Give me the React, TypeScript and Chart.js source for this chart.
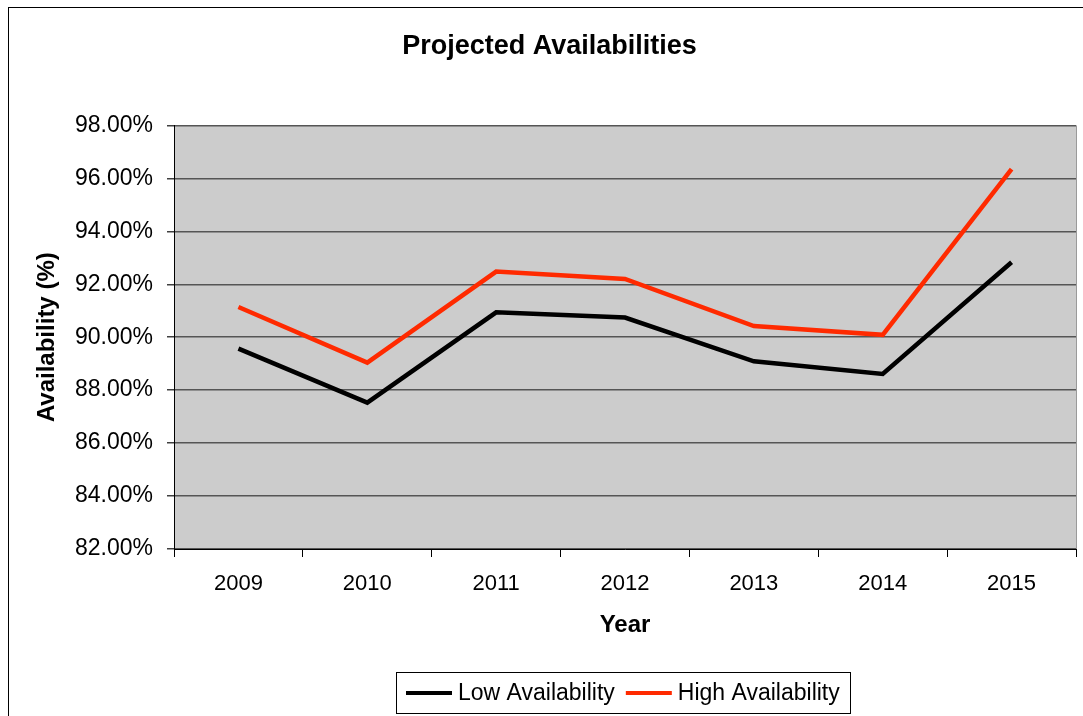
import React, { useEffect, useRef } from "react";
import { Chart, registerables } from "chart.js";

Chart.register(...registerables);

// Projection years and availability percentages
const years: string[] = ["2009", "2010", "2011", "2012", "2013", "2014", "2015"];
const lowAvailability: number[] = [89.57, 87.53, 90.94, 90.74, 89.09, 88.61, 92.83];
const highAvailability: number[] = [91.14, 89.04, 92.48, 92.2, 90.42, 90.09, 96.35];

const Y_MIN = 82;
const Y_MAX = 98;
const Y_STEP = 2;

const FONT = '"Liberation Sans", Arial, Helvetica, sans-serif';
const CANVAS_W = 1083;
const CANVAS_H = 720;

// Grey plot background, outer frame and right edge of the plot
const backdropPlugin = {
  id: "backdrop",
  beforeDraw(chart: any) {
    const { ctx, chartArea, width, height } = chart;
    ctx.save();
    ctx.fillStyle = "#ffffff";
    ctx.fillRect(0, 0, width, height);
    ctx.strokeStyle = "#000000";
    ctx.lineWidth = 1;
    ctx.strokeRect(0.5, 0.5, width - 1, height - 1);
    ctx.fillStyle = "#cccccc";
    ctx.fillRect(chartArea.left, chartArea.top, chartArea.right - chartArea.left, chartArea.bottom - chartArea.top);
    ctx.restore();
  },
  afterDraw(chart: any) {
    const { ctx, chartArea } = chart;
    ctx.save();
    ctx.strokeStyle = "#9a9a9a";
    ctx.lineWidth = 1;
    ctx.beginPath();
    ctx.moveTo(Math.round(chartArea.right) + 0.5, chartArea.top);
    ctx.lineTo(Math.round(chartArea.right) + 0.5, chartArea.bottom);
    ctx.stroke();
    ctx.restore();
  },
};

// Legend drawn inside a bordered box below the axis title
const boxedLegendPlugin = {
  id: "boxedLegend",
  afterDraw(chart: any) {
    const { ctx, chartArea } = chart;
    const sample = 46;
    const gap = 6;
    const itemGap = 11;
    const padX = 10;
    const boxTop = chartArea.bottom + 123;
    const boxH = 41;
    ctx.save();
    ctx.font = `23px ${FONT}`;
    const items = chart.data.datasets.map((ds: any) => ({
      label: ds.label as string,
      color: ds.borderColor as string,
      w: ctx.measureText(ds.label).width,
    }));
    let total = padX * 2 + itemGap * (items.length - 1);
    items.forEach((it: any) => (total += sample + gap + it.w));
    const cx = (chartArea.left + chartArea.right) / 2 - 2;
    const left = Math.round(cx - total / 2);
    ctx.strokeStyle = "#000000";
    ctx.lineWidth = 1;
    ctx.strokeRect(left + 0.5, boxTop + 0.5, Math.round(total), boxH);
    const midY = boxTop + boxH / 2 + 0.5;
    let x = left + padX;
    items.forEach((it: any) => {
      ctx.strokeStyle = it.color;
      ctx.lineWidth = 4;
      ctx.beginPath();
      ctx.moveTo(x, midY);
      ctx.lineTo(x + sample, midY);
      ctx.stroke();
      x += sample + gap;
      ctx.fillStyle = "#000000";
      ctx.textBaseline = "middle";
      ctx.textAlign = "left";
      ctx.fillText(it.label, x, midY + 1);
      x += it.w + itemGap;
    });
    ctx.restore();
  },
};

export default function App() {
  const canvasRef = useRef<HTMLCanvasElement | null>(null);

  useEffect(() => {
    if (!canvasRef.current) return;
    const chart = new Chart(canvasRef.current, {
      type: "line",
      data: {
        labels: years,
        datasets: [
          {
            label: "Low Availability",
            data: lowAvailability,
            borderColor: "#000000",
            backgroundColor: "#000000",
            borderWidth: 4.5,
            pointRadius: 0,
            tension: 0,
            fill: false,
          },
          {
            label: "High Availability",
            data: highAvailability,
            borderColor: "#ff2a00",
            backgroundColor: "#ff2a00",
            borderWidth: 4.5,
            pointRadius: 0,
            tension: 0,
            fill: false,
          },
        ],
      },
      options: {
        responsive: false,
        animation: false,
        devicePixelRatio: 1,
        layout: { padding: { left: 15, right: 15, top: 0, bottom: 53 } },
        plugins: {
          legend: { display: false },
          tooltip: { enabled: false },
          title: {
            display: true,
            text: "Projected Availabilities",
            color: "#000000",
            font: { family: FONT, size: 27, weight: "bold" },
            padding: { top: 23, bottom: 63 },
          },
        },
        scales: {
          x: {
            offset: true,
            afterFit: (scale: any) => {
              scale.height = 125;
            },
            grid: {
              display: true,
              offset: true,
              drawOnChartArea: false,
              drawTicks: true,
              tickLength: 8,
              color: "#000000",
            },
            border: { display: true, color: "#000000", width: 1 },
            ticks: {
              color: "#000000",
              font: { family: FONT, size: 22 },
              padding: 14,
              maxRotation: 0,
            },
            title: {
              display: true,
              text: "Year",
              color: "#000000",
              font: { family: FONT, size: 24, weight: "bold" },
              padding: { top: 0, bottom: 34 },
            },
          },
          y: {
            min: Y_MIN,
            max: Y_MAX,
            afterFit: (scale: any) => {
              scale.width = 151;
            },
            grid: {
              color: "#555555",
              lineWidth: 1.5,
              tickLength: 7,
              tickColor: "#404040",
            },
            border: { display: true, color: "#000000", width: 1 },
            ticks: {
              stepSize: Y_STEP,
              color: "#000000",
              font: { family: FONT, size: 23 },
              padding: 14,
              callback: (v: any) => Number(v).toFixed(2) + "%",
            },
            title: {
              display: true,
              text: "Availability (%)",
              color: "#000000",
              font: { family: FONT, size: 24, weight: "bold" },
              padding: { top: 10, bottom: 0 },
            },
          },
        },
      },
      plugins: [backdropPlugin, boxedLegendPlugin],
    });
    return () => chart.destroy();
  }, []);

  return (
    <div
      style={{
        position: "fixed",
        left: 0,
        top: 0,
        width: 1083,
        height: 716,
        overflow: "hidden",
        background: "#ffffff",
      }}
    >
      <canvas
        ref={canvasRef}
        width={CANVAS_W}
        height={CANVAS_H}
        style={{ position: "absolute", left: 8, top: 7, width: CANVAS_W, height: CANVAS_H }}
      />
    </div>
  );
}
